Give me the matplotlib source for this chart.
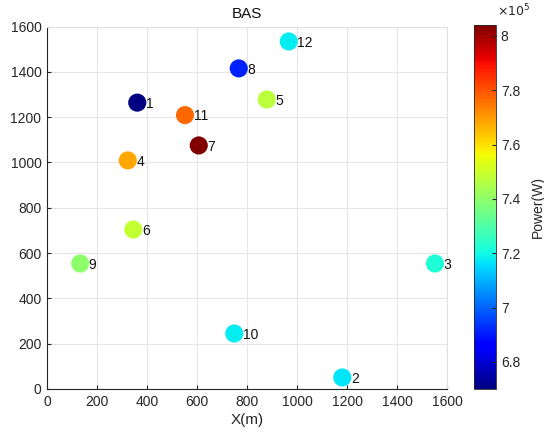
import matplotlib
matplotlib.use('Agg')
import matplotlib.pyplot as plt
import numpy as np

plt.rcParams['font.family'] = ['Liberation Sans', 'DejaVu Sans']

# node positions (m) and transmit power (W)
node_ids = [1, 2, 3, 4, 5, 6, 7, 8, 9, 10, 11, 12]
x_pos = [361, 1181, 1552, 323, 879, 345, 607, 767, 133, 749, 552, 967]
y_pos = [1264, 51, 554, 1009, 1278, 704, 1075, 1415, 554, 245, 1209, 1534]
power = [6.70e5, 7.17e5, 7.22e5, 7.68e5, 7.47e5, 7.49e5, 8.04e5, 6.91e5,
         7.40e5, 7.18e5, 7.77e5, 7.18e5]

fig = plt.figure(figsize=(5.44, 4.36), dpi=100)
ax = fig.add_axes([0.0864, 0.1078, 0.7353, 0.8314])
cax = fig.add_axes([0.8713, 0.1078, 0.0404, 0.8349])

sc = ax.scatter(x_pos, y_pos, c=power, cmap='jet', s=170, edgecolors='none', zorder=3)
for i, n in enumerate(node_ids):
    ax.text(x_pos[i] + 34, y_pos[i] - 5, str(n), fontsize=10, va='center', ha='left',
            color='#111111', zorder=4)

ax.set_xlim(0, 1600)
ax.set_ylim(0, 1600)
ax.set_xticks(np.arange(0, 1601, 200))
ax.set_yticks(np.arange(0, 1601, 200))
ax.grid(True, color='#e6e6e6', linewidth=0.8, zorder=0)
ax.set_axisbelow(True)
for side in ['top', 'right']:
    ax.spines[side].set_color('#e0e0e0')
for side in ['left', 'bottom']:
    ax.spines[side].set_color('#262626')
ax.tick_params(labelsize=10, colors='#262626', length=3, direction='in', pad=4)
ax.set_title('BAS', fontsize=11, pad=6, color='#111111')
ax.set_xlabel('X(m)', fontsize=11, labelpad=3, color='#262626')
ax.set_ylabel('Y(m)', fontsize=11, color='#262626')
ax.yaxis.set_label_coords(-0.125, 0.5)

cb = fig.colorbar(sc, cax=cax)
ticks = [6.8e5, 7.0e5, 7.2e5, 7.4e5, 7.6e5, 7.8e5, 8.0e5]
cb.set_ticks(ticks)
cb.set_ticklabels(['6.8', '7', '7.2', '7.4', '7.6', '7.8', '8'])
cb.ax.tick_params(labelsize=10, colors='#262626', length=3, direction='in')
cb.outline.set_edgecolor('#262626')
cb.outline.set_linewidth(0.6)
cb.set_label('Power(W)', fontsize=10, color='#262626', labelpad=8)
fig.text(0.913, 0.975, r'$\times10^5$', fontsize=9, color='#262626', ha='left', va='center')

plt.savefig('out.png', dpi=100)
